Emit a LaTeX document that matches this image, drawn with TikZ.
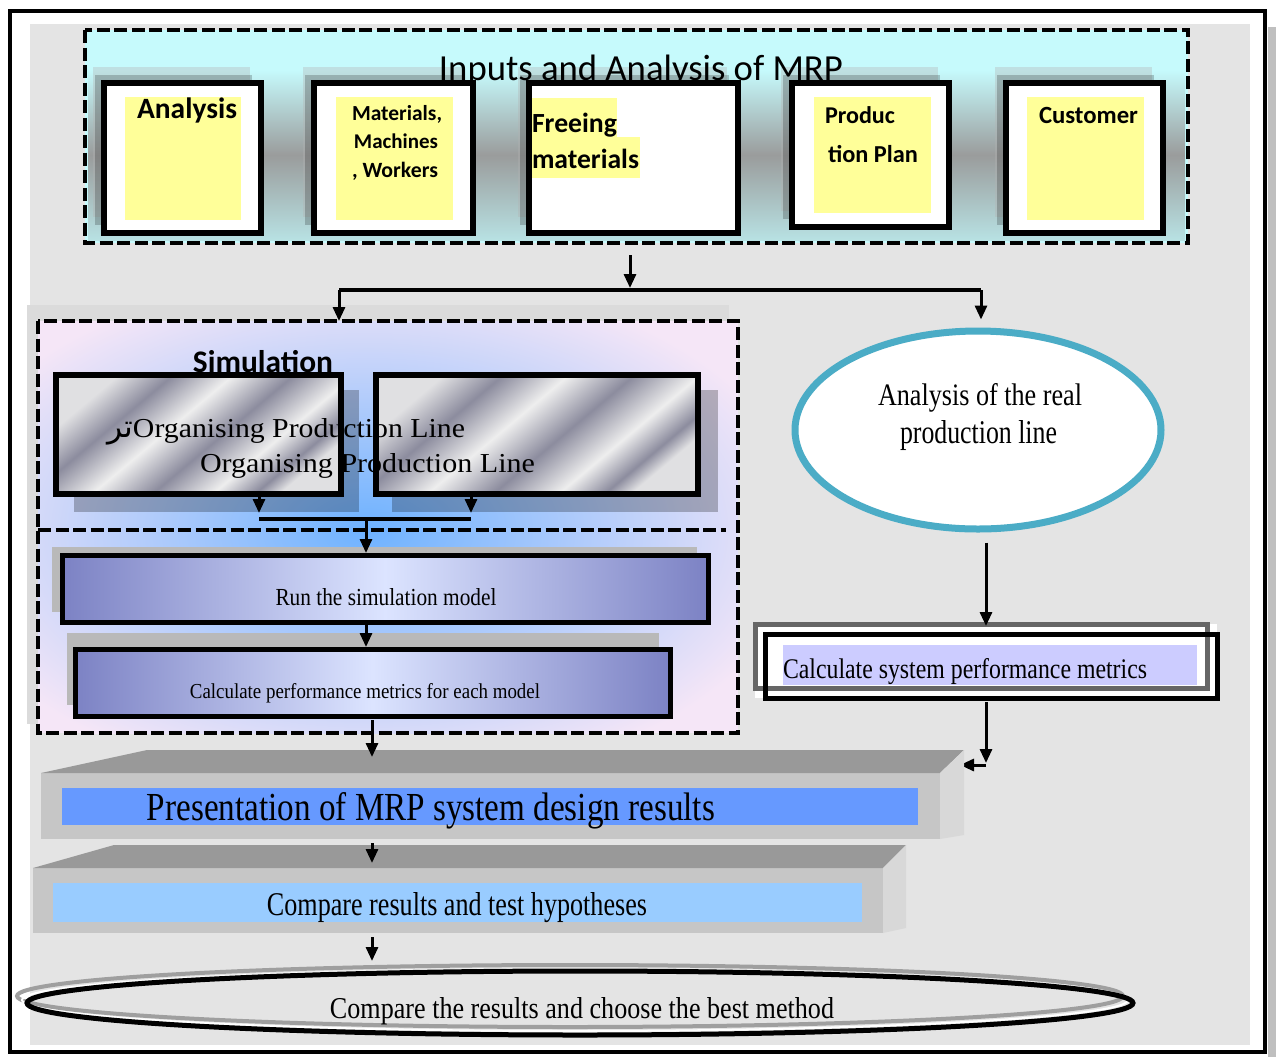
\documentclass[tikz,border=0pt]{standalone}
\usepackage{fontspec}
\usepackage{graphicx}
\setmainfont{Liberation Serif}
\newfontfamily\carl{Carlito}
\newfontfamily\arabicfont[Script=Arabic]{DejaVu Sans}
\TeXXeTstate=1
\usetikzlibrary{fit,shapes.geometric,arrows.meta}

\definecolor{bgray}{HTML}{E4E4E4}
\definecolor{cyanbg}{HTML}{C6FAFC}
\definecolor{bandgray}{HTML}{9A9C9C}
\definecolor{yel}{HTML}{FFFF99}
\definecolor{simpink}{HTML}{F5E6F7}
\definecolor{glowblue}{HTML}{6EB2FF}
\definecolor{mlight}{HTML}{E0E0E2}
\definecolor{mdark}{HTML}{8C8C9E}
\definecolor{mwhite}{HTML}{EEEEEE}
\definecolor{runedge}{HTML}{7C82C4}
\definecolor{runmid}{HTML}{DCE4FF}
\definecolor{lav}{HTML}{CCCCFF}
\definecolor{tealc}{HTML}{4BACC6}
\definecolor{topface}{HTML}{999999}
\definecolor{frontface}{HTML}{C6C6C6}
\definecolor{sideface}{HTML}{D8D8D8}
\definecolor{barblue}{HTML}{6699FF}
\definecolor{barlight}{HTML}{99CCFF}

% brushed-metal fill for the two "Organising" boxes
\pgfdeclarehorizontalshading{metal}{100bp}{color(0bp)=(mlight); color(25bp)=(mlight); color(34bp)=(mdark); color(44bp)=(mwhite); color(54bp)=(mdark); color(64bp)=(mwhite); color(71bp)=(mdark); color(75bp)=(mlight); color(100bp)=(mlight)}

% text scaled to a given width (and height)
\newcommand{\fw}[2]{\resizebox{#1}{!}{#2}}
\newcommand{\fwh}[3]{\resizebox{#1}{#2}{#3}}

\begin{document}
\begin{tikzpicture}[x=0.5pt,y=-0.5pt,
  bx/.style={inner sep=0pt, outer sep=0pt},
  lbl/.style={inner sep=0pt, outer sep=0pt, anchor=base},
  lblw/.style={inner sep=0pt, outer sep=0pt, anchor=base west},
  inbox/.style={bx, draw, line width=3pt, fill=white},
  ybox/.style={bx, fill=yel},
  arr/.style={line width=1.5pt, -{Triangle[length=7pt,width=6pt]}},
  bar/.style={line width=2pt},
  dashbox/.style={draw, line width=2.25pt, dash pattern=on 6.5pt off 2.25pt},
  shadowbox/.style={fill=black, opacity=.25},
  metalbox/.style={bx, shading=metal, shading angle=-50},
  runbox/.style={bx, left color=runedge, right color=runedge, middle color=runmid}]

\useasboundingbox (0,0) rectangle (1276,1057);

% page frame
\fill[gray!50] (1268,27) rectangle (1276,1057);
\fill[white] (10,11) rectangle (1265,1052);
\fill[bgray] (30,24) rectangle (1250,1045);
\draw[line width=2.25pt] (10,11) rectangle (1265,1052);

% ---------------- inputs panel ----------------
\node[bx, fill=cyanbg, fit={(85,30) (1188,243)}] (inputs) {};
\shade[top color=cyanbg, bottom color=cyanbg!80!gray, middle color=bandgray] (88,70) rectangle (1185,240);

\foreach \a/\b/\c/\d in {104/83/261/233, 314/83/473/233, 529/83/738/233, 792/83/949/227, 1006/83/1163/233} {
  \fill[gray!60, opacity=.35] (\a-11,\b-16) rectangle (\c-11,\d-16);
  \fill[black, opacity=.2] (\a-9,\b-8) rectangle (\c-9,\d-8);
}

\node[inbox, fit={(104,83) (261,233)}] (ana) {};
\node[ybox, fit={(125,97) (241,220)}] (anaY) {};
\node[inbox, fit={(314,83) (473,233)}] (mat) {};
\node[ybox, fit={(336,97) (453,220)}] (matY) {};
\node[inbox, fit={(529,83) (738,233)}] (fre) {};
\node[ybox, fit={(532,98) (617,137)}] (freY1) {};
\node[ybox, fit={(532,137) (640,178)}] (freY2) {};
\node[inbox, fit={(792,83) (949,227)}] (pro) {};
\node[ybox, fit={(814,97) (931,213)}] (proY) {};
\node[inbox, fit={(1006,83) (1163,233)}] (cus) {};
\node[ybox, fit={(1027,97) (1144,220)}] (cusY) {};

\node[lbl] (tIn) at (641,80) {\carl\fw{202pt}{Inputs and Analysis of MRP}};
\node[lbl] (tAna) at (187,118) {\carl\bfseries\fw{50pt}{Analysis}};
\node[lbl] (tMat1) at (397,120) {\carl\bfseries\fw{45pt}{Materials,}};
\node[lbl] (tMat2) at (396,148) {\carl\bfseries\fw{42pt}{Machines}};
\node[lbl] (tMat3) at (395,177) {\carl\bfseries\fw{43pt}{, Workers}};
\node[lblw] (tFr1) at (532,132) {\carl\bfseries\fw{42.5pt}{Freeing}};
\node[lblw] (tFr2) at (532,168) {\carl\bfseries\fw{53.5pt}{materials}};
\node[lblw] (tPr1) at (825,123) {\carl\bfseries\fw{35pt}{Produc}};
\node[lblw] (tPr2) at (828,162) {\carl\bfseries\fw{45pt}{tion Plan}};
\node[lblw] (tCu) at (1039,123) {\carl\bfseries\fw{49.5pt}{Customer}};

\draw[dashbox] (inputs.north west) rectangle (inputs.south east);

% fork below the inputs panel
\coordinate (fork) at (630,290);
\coordinate (fL) at (339,290);
\coordinate (fR) at (981,290);

% ---------------- simulation panel ----------------
\fill[gray!28] (27,305) rectangle (729,724);
\node[bx, fill=simpink, fit={(38,321) (738,733)}] (sim) {};
\begin{scope}
  \clip (38,321) rectangle (738,733);
  \shade[inner color=glowblue, outer color=simpink] (368,530) ellipse [x radius=440, y radius=260];
\end{scope}

\fill[shadowbox] (74,390) rectangle (359,512);
\fill[shadowbox] (392,390) rectangle (718,512);
\node[metalbox, fit={(56,375) (341,494)}] (orgA) {};
\node[metalbox, fit={(376,375) (698,494)}] (orgB) {};

\node[lbl] (tSim) at (263,372) {\carl\bfseries\fw{70pt}{Simulation}};
\node[lbl, anchor=base east] (tOrgAr) at (133,437) {\fw{13pt}{\arabicfont\beginR تر\endR}};
\node[lblw] (tOrg1) at (133,437) {\fwh{166pt}{9.5pt}{Organising Production Line}};
\node[lblw] (tOrg2) at (200,472) {\fwh{167.5pt}{9.5pt}{Organising Production Line}};

\draw[line width=3pt] (orgA.north west) rectangle (orgA.south east);
\draw[line width=3pt] (orgB.north west) rectangle (orgB.south east);

\coordinate (jA) at (259,519);
\coordinate (jB) at (471,519);
\coordinate (jM) at (366,519);
\draw[arr, shorten >=3pt] (orgA.south -| jA) -- (jA);
\draw[arr, shorten >=3pt] (orgB.south -| jB) -- (jB);
\draw[bar] (jA) -- (jB);

\draw[dashbox] (38,530) -- (726,530);

\fill[gray!55] (52,547) rectangle (697,612);
\node[runbox, fit={(62,555) (708,622)}] (run) {};
\draw[line width=2.5pt] (run.north west) rectangle (run.south east);
\node[lbl] (tRun) at (386,605) {\fwh{110.5pt}{8.5pt}{Run the simulation model}};

\fill[gray!55] (67,633) rectangle (659,705);
\node[runbox, fit={(75,649) (670,716)}] (calc) {};
\draw[line width=2.5pt] (calc.north west) rectangle (calc.south east);
\node[lbl] (tCalc) at (365,698) {\fwh{175pt}{7.5pt}{Calculate performance metrics for each model}};

\draw[arr] (jM) -- ([yshift=1pt]run.north -| jM);
\draw[arr] ([yshift=-1pt]run.south -| jM) -- ([yshift=1pt]calc.north -| jM);

\draw[dashbox] (sim.north west) rectangle (sim.south east);

\draw[arr, shorten <=6pt, shorten >=1pt] (inputs.south -| fork) -- (fork);
\draw[bar] (fL) -- (fR);
\draw[arr] (fL) -- (sim.north -| fL);

% ---------------- real production line ----------------
\node[ellipse, draw=tealc, line width=3.5pt, fill=white, inner sep=0pt,
      minimum width=183pt, minimum height=99pt] (real) at (978,430) {};
\node[lbl] (tReal1) at (980,405) {\fwh{102pt}{11pt}{Analysis of the real}};
\node[lbl] (tReal2) at (978.5,443) {\fwh{78.5pt}{11.5pt}{production line}};
\draw[arr, shorten >=4pt] (fR) -- (real.north -| fR);

\fill[white] (755,624) rectangle (1217,698);
\node[bx, draw=gray!80!black, line width=2.5pt, fit={(755,624) (1207,688)}] (sysG) {};
\node[bx, draw, line width=2.5pt, fit={(765,634) (1217,698)}] (sys) {};
\node[bx, fill=lav, fit={(783,645) (1197,685)}] (sysL) {};
\node[lblw] (tSys) at (783,678) {\fwh{182pt}{10pt}{Calculate system performance metrics}};

\coordinate (rX) at (986,0);
\draw[arr, shorten <=5pt, shorten >=4pt] (real.south -| rX) -- (sys.north -| rX);
\coordinate (sysEnd) at (986,763);
\coordinate (presIn) at (960,765);
\draw[arr, shorten <=2pt] (sys.south -| rX) -- (sysEnd);
\draw[arr] (986,765) -- (presIn);

% ---------------- result slabs ----------------
\node[bx, fill=frontface, fit={(41,773) (940,839)}] (pres) {};
\fill[topface] (pres.north west) -- ++(106,-23) -- (964,750) -- (pres.north east) -- cycle;
\fill[sideface] (pres.north east) -- (964,750) -- (964,835) -- (pres.south east) -- cycle;
\node[bx, fill=barblue, fit={(62,788) (918,825)}] (presB) {};
\node[lbl] (tPres) at (431,820) {\fwh{284pt}{14pt}{Presentation of MRP system design results}};

\node[bx, fill=frontface, fit={(33,868) (883,933)}] (comp) {};
\fill[topface] (comp.north west) -- ++(81,-23) -- (906,845) -- (comp.north east) -- cycle;
\fill[sideface] (comp.north east) -- (906,845) -- (906,928) -- (comp.south east) -- cycle;
\node[bx, fill=barlight, fit={(53,883) (862,922)}] (compB) {};
\node[lbl] (tComp) at (457,915) {\fwh{190pt}{11.5pt}{Compare results and test hypotheses}};

\coordinate (presTop) at (372,757);
\coordinate (compTop) at (372,863);
\draw[arr] (calc.south -| presTop) ++(0,4) -- (presTop);
\draw[arr, shorten <=2pt] (pres.south -| compTop) -- (compTop);

% ---------------- final choice ----------------
\node[ellipse, draw=gray!75, line width=2pt, inner sep=0pt,
      minimum width=553pt, minimum height=31pt] (bestG) at (570,996) {};
\node[ellipse, draw=white, line width=1pt, inner sep=0pt,
      minimum width=553pt, minimum height=31pt] (bestW) at (575,1000) {};
\node[ellipse, draw, line width=2.5pt, inner sep=0pt,
      minimum width=553pt, minimum height=32pt] (best) at (580,1003) {};
\node[lbl] (tBest) at (582,1018) {\fwh{252pt}{10.5pt}{Compare the results and choose the best method}};
\draw[arr, shorten <=2pt, shorten >=1pt] (comp.south -| compTop) -- (bestG.north -| compTop);

\end{tikzpicture}
\end{document}
